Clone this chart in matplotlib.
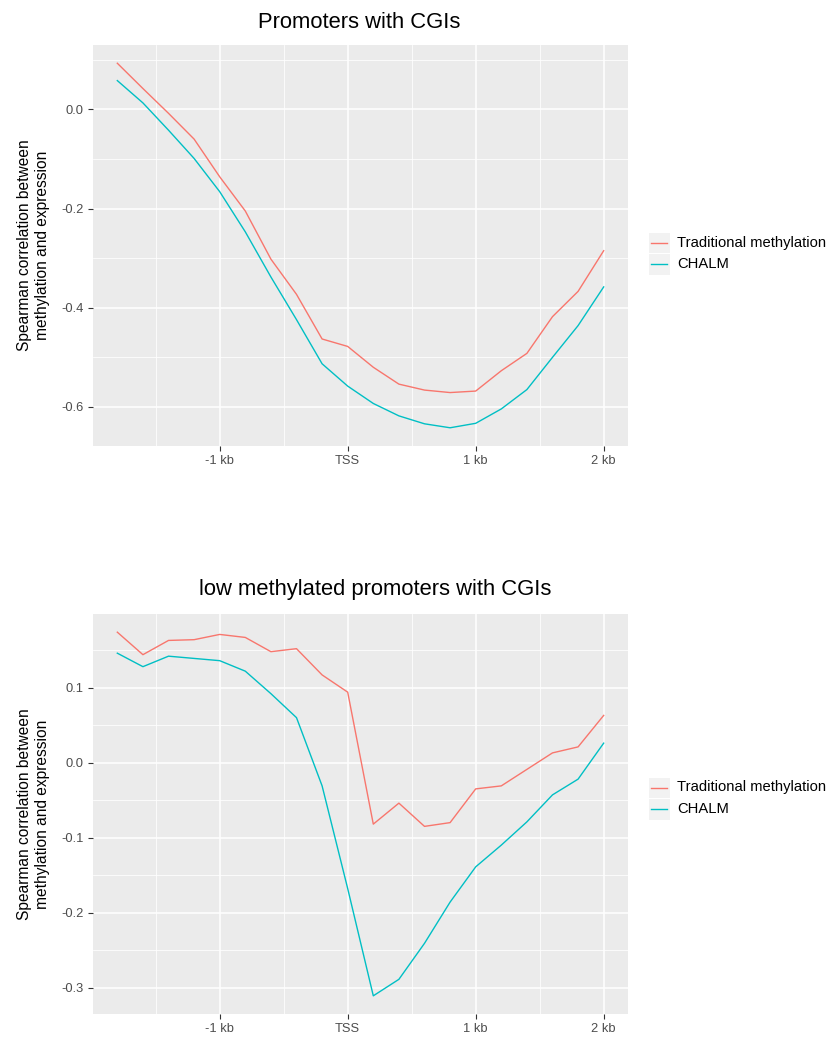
"""Spearman correlation of methylation vs expression around the TSS."""

import matplotlib
matplotlib.use("Agg")
import matplotlib.pyplot as plt
from matplotlib.patches import Rectangle
from matplotlib.lines import Line2D

plt.rcParams["font.family"] = ["Liberation Sans", "DejaVu Sans"]

# positions relative to TSS (kb)
positions = [-1.8, -1.6, -1.4, -1.2, -1.0, -0.8, -0.6, -0.4, -0.2, 0.0,
             0.2, 0.4, 0.6, 0.8, 1.0, 1.2, 1.4, 1.6, 1.8, 2.0]
tick_positions = [-1, 0, 1, 2]
tick_labels = ["-1 kb", "TSS", "1 kb", "2 kb"]
series_names = ["Traditional methylation", "CHALM"]

cgi_traditional = [0.093, 0.042, -0.008, -0.060, -0.136, -0.205, -0.302, -0.373, -0.463, -0.478,
                   -0.520, -0.554, -0.566, -0.571, -0.568, -0.527, -0.492, -0.418, -0.367, -0.285]
cgi_chalm = [0.058, 0.013, -0.042, -0.099, -0.166, -0.247, -0.338, -0.424, -0.513, -0.558,
             -0.593, -0.618, -0.634, -0.642, -0.633, -0.604, -0.565, -0.500, -0.436, -0.358]

low_traditional = [0.174, 0.144, 0.163, 0.164, 0.171, 0.167, 0.148, 0.152, 0.117, 0.094,
                   -0.082, -0.054, -0.085, -0.080, -0.035, -0.031, -0.009, 0.013, 0.021, 0.063]
low_chalm = [0.146, 0.128, 0.142, 0.139, 0.136, 0.122, 0.092, 0.060, -0.031, -0.168,
             -0.311, -0.289, -0.241, -0.186, -0.139, -0.110, -0.079, -0.043, -0.022, 0.026]

panels = [
    ("Promoters with CGIs", cgi_traditional, cgi_chalm, [0.0, -0.2, -0.4, -0.6]),
    ("low methylated promoters with CGIs", low_traditional, low_chalm,
     [0.1, 0.0, -0.1, -0.2, -0.3]),
]

colors = ["#F8766D", "#00BFC4"]
W, H = 829, 1039
fig = plt.figure(figsize=(W / 100, H / 100), dpi=100)

# panel boxes in pixels: left, top, right, bottom
boxes = [(93, 45, 628, 446), (93, 614, 628, 1014)]
legend_tops = [232.5, 777.5]
title_x = [0.497, 0.527]
title_pad = [12, 14]


def style_axis(ax, yticks):
    ax.set_facecolor("#EBEBEB")
    for s in ax.spines.values():
        s.set_visible(False)
    ax.set_xticks(tick_positions)
    ax.set_xticklabels(tick_labels)
    ax.set_xticks([-1.5, -0.5, 0.5, 1.5], minor=True)
    ax.set_yticks(yticks)
    ax.set_yticklabels([f"{v:.1f}" for v in yticks])
    step = yticks[0] - yticks[1]
    ax.set_yticks([v - step / 2 for v in [yticks[0] + step] + yticks], minor=True)
    ax.grid(which="major", color="white", linewidth=1.1)
    ax.grid(which="minor", color="white", linewidth=0.55)
    ax.set_axisbelow(True)
    ax.tick_params(which="major", length=3.5, width=0.8, color="#333333",
                   labelcolor="#4D4D4D", labelsize=9.3, pad=3)
    ax.tick_params(which="minor", length=0)


for k, (title, trad, chalm, yticks) in enumerate(panels):
    l, t, r, b = boxes[k]
    lt = legend_tops[k]
    ax = fig.add_axes([l / W, 1 - b / H, (r - l) / W, (b - t) / H])
    ax.plot(positions, trad, color=colors[0], linewidth=1.0)
    ax.plot(positions, chalm, color=colors[1], linewidth=1.0)
    lo = min(min(trad), min(chalm))
    hi = max(max(trad), max(chalm))
    pad = (hi - lo) * 0.05
    ax.set_xlim(-1.8 - 0.19, 2.0 + 0.19)
    style_axis(ax, yticks)
    ax.set_ylim(lo - pad, hi + pad)
    ax.set_title(title, fontsize=15.8, pad=title_pad[k], x=title_x[k])
    ax.set_ylabel("Spearman correlation between\nmethylation and expression",
                  fontsize=11.2, labelpad=8, linespacing=1.3)

    # legend keys with grey background, ggplot style
    for i, name in enumerate(series_names):
        ky = lt + i * 21.5
        fig.patches.append(Rectangle((649 / W, 1 - (ky + 20.5) / H), 20.5 / W, 20.5 / H,
                                     transform=fig.transFigure, facecolor="#F2F2F2",
                                     edgecolor="none"))
        fig.lines.append(Line2D([651 / W, 667 / W],
                                [1 - (ky + 10) / H] * 2,
                                transform=fig.transFigure, color=colors[i], linewidth=1.0))
        fig.text(677 / W, 1 - (ky + 10) / H, name, fontsize=10.6, va="center",
                 ha="left", color="black")

fig.savefig("out.png", dpi=100)
